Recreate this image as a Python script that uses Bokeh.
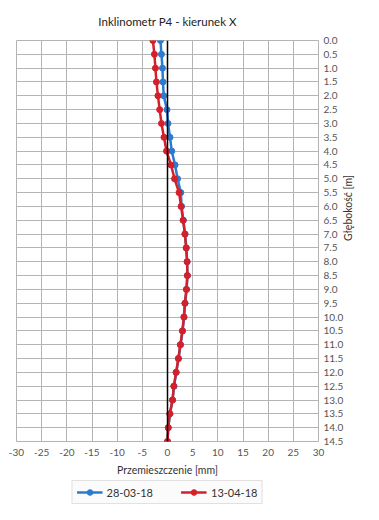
import math
from bokeh.plotting import figure
from bokeh.layouts import column
from bokeh.models import Range1d, FixedTicker, Span, Legend, LegendItem, CustomJSTickFormatter
from bokeh.embed import file_html
from bokeh.resources import INLINE

depths = [0.0, 0.5, 1.0, 1.5, 2.0, 2.5, 3.0, 3.5, 4.0, 4.5, 5.0, 5.5, 6.0, 6.5, 7.0,
          7.5, 8.0, 8.5, 9.0, 9.5, 10.0, 10.5, 11.0, 11.5, 12.0, 12.5, 13.0, 13.5, 14.0, 14.5]
s1_name = "28-03-18"
s1_vals = [-1.4, -1.2, -1.0, -0.9, -0.75, -0.1, 0.1, 0.5, 0.85, 1.5, 2.0, 2.65, 2.8, 3.15, 3.5,
           3.75, 3.9, 3.95, 3.8, 3.5, 3.3, 3.0, 2.6, 2.2, 1.75, 1.3, 1.0, 0.5, 0.15, 0.0]
s2_name = "13-04-18"
s2_vals = [-2.9, -2.6, -2.4, -2.2, -1.9, -1.55, -1.2, -0.7, -0.2, 0.7, 1.4, 2.3, 2.7, 3.1, 3.45,
           3.7, 3.9, 3.95, 3.75, 3.45, 3.25, 2.95, 2.55, 2.15, 1.7, 1.25, 1.0, 0.45, 0.15, 0.0]
x_ticks = [-30, -25, -20, -15, -10, -5, 0, 5, 10, 15, 20, 25, 30]
title_text = "Inklinometr P4 - kierunek X"
x_title = "Przemieszczenie [mm]"
y_title = "Głębokość [m]"

FONT = "Lato"
BLUE = "#2b7bd0"
RED = "#d3202a"
GRID = "#b4b4b4"

p = figure(width=363, height=480,
           output_backend="svg", toolbar_location=None,
           x_range=Range1d(-30, 30), y_range=Range1d(14.5, 0),
           y_axis_location="right", title=title_text,
           min_border_left=16, min_border_top=38, min_border_right=41, min_border_bottom=39)

p.title.align = "center"
p.title.text_font = FONT
p.title.text_font_size = "11.5px"
p.title.text_font_style = "normal"
p.title.text_color = "#222222"
p.title.standoff = 25

p.outline_line_color = GRID
p.background_fill_color = "white"
p.border_fill_color = "white"

p.xaxis.ticker = FixedTicker(ticks=x_ticks)
p.xaxis.formatter = CustomJSTickFormatter(code="return tick.toString();")
p.yaxis.ticker = FixedTicker(ticks=depths)
p.yaxis.formatter = CustomJSTickFormatter(code="return tick.toFixed(1);")

for ax in (p.xaxis[0], p.yaxis[0]):
    ax.axis_line_color = None
    ax.major_tick_line_color = None
    ax.minor_tick_line_color = None
    ax.major_tick_out = 0
    ax.major_tick_in = 0
    ax.major_label_text_font = FONT
    ax.major_label_text_font_size = "10px"
    ax.major_label_text_color = "#555555"
    ax.axis_label_text_font = FONT
    ax.axis_label_text_font_size = "10.5px"
    ax.axis_label_text_font_style = "normal"
    ax.axis_label_text_color = "#333333"

p.xaxis.major_label_standoff = 7
p.xaxis.axis_label = x_title
p.xaxis.axis_label_standoff = 5
p.yaxis.major_label_standoff = 5
p.yaxis.axis_label = y_title
p.yaxis.axis_label_standoff = 2
if "axis_label_orientation" in p.yaxis[0].properties():
    p.yaxis.axis_label_orientation = math.pi / 2

p.xgrid.ticker = FixedTicker(ticks=x_ticks)
p.ygrid.ticker = FixedTicker(ticks=depths)
p.grid.grid_line_color = GRID
p.grid.grid_line_width = 1

p.add_layout(Span(location=0, dimension="height", line_color="black", line_width=1.5))

p.line(s1_vals, depths, line_color=BLUE, line_width=2.5)
p.scatter(s1_vals, depths, size=6, fill_color=BLUE, line_color=BLUE)
p.line(s2_vals, depths, line_color=RED, line_width=2.5)
p.scatter(s2_vals, depths, size=6, fill_color=RED, line_color=RED)

# legend strip below the chart (proxy renderers out of view, legend drawn by Bokeh)
lg = figure(width=363, height=24, output_backend="svg", toolbar_location=None,
            x_range=Range1d(100, 101), y_range=Range1d(100, 101),
            min_border=0, outline_line_color=None)
lg.axis.visible = False
lg.grid.visible = False
q1 = lg.line(s1_vals, depths, line_color=BLUE, line_width=2.5)
r1 = lg.scatter(s1_vals, depths, size=6, fill_color=BLUE, line_color=BLUE)
q2 = lg.line(s2_vals, depths, line_color=RED, line_width=2.5)
r2 = lg.scatter(s2_vals, depths, size=6, fill_color=RED, line_color=RED)

legend = Legend(items=[LegendItem(label=s1_name, renderers=[q1, r1]),
                       LegendItem(label=s2_name, renderers=[q2, r2])],
                orientation="horizontal", location="center",
                label_text_font=FONT, label_text_font_size="11px", label_text_color="#333333",
                border_line_color="#c8c8c8", background_fill_color="#fbfbfb",
                glyph_width=26, glyph_height=14, label_height=14,
                label_standoff=4, spacing=28, padding=4, margin=1)
lg.add_layout(legend, "center")

layout = column(p, lg, spacing=0)
open("out.html", "w").write(file_html(layout, INLINE))
